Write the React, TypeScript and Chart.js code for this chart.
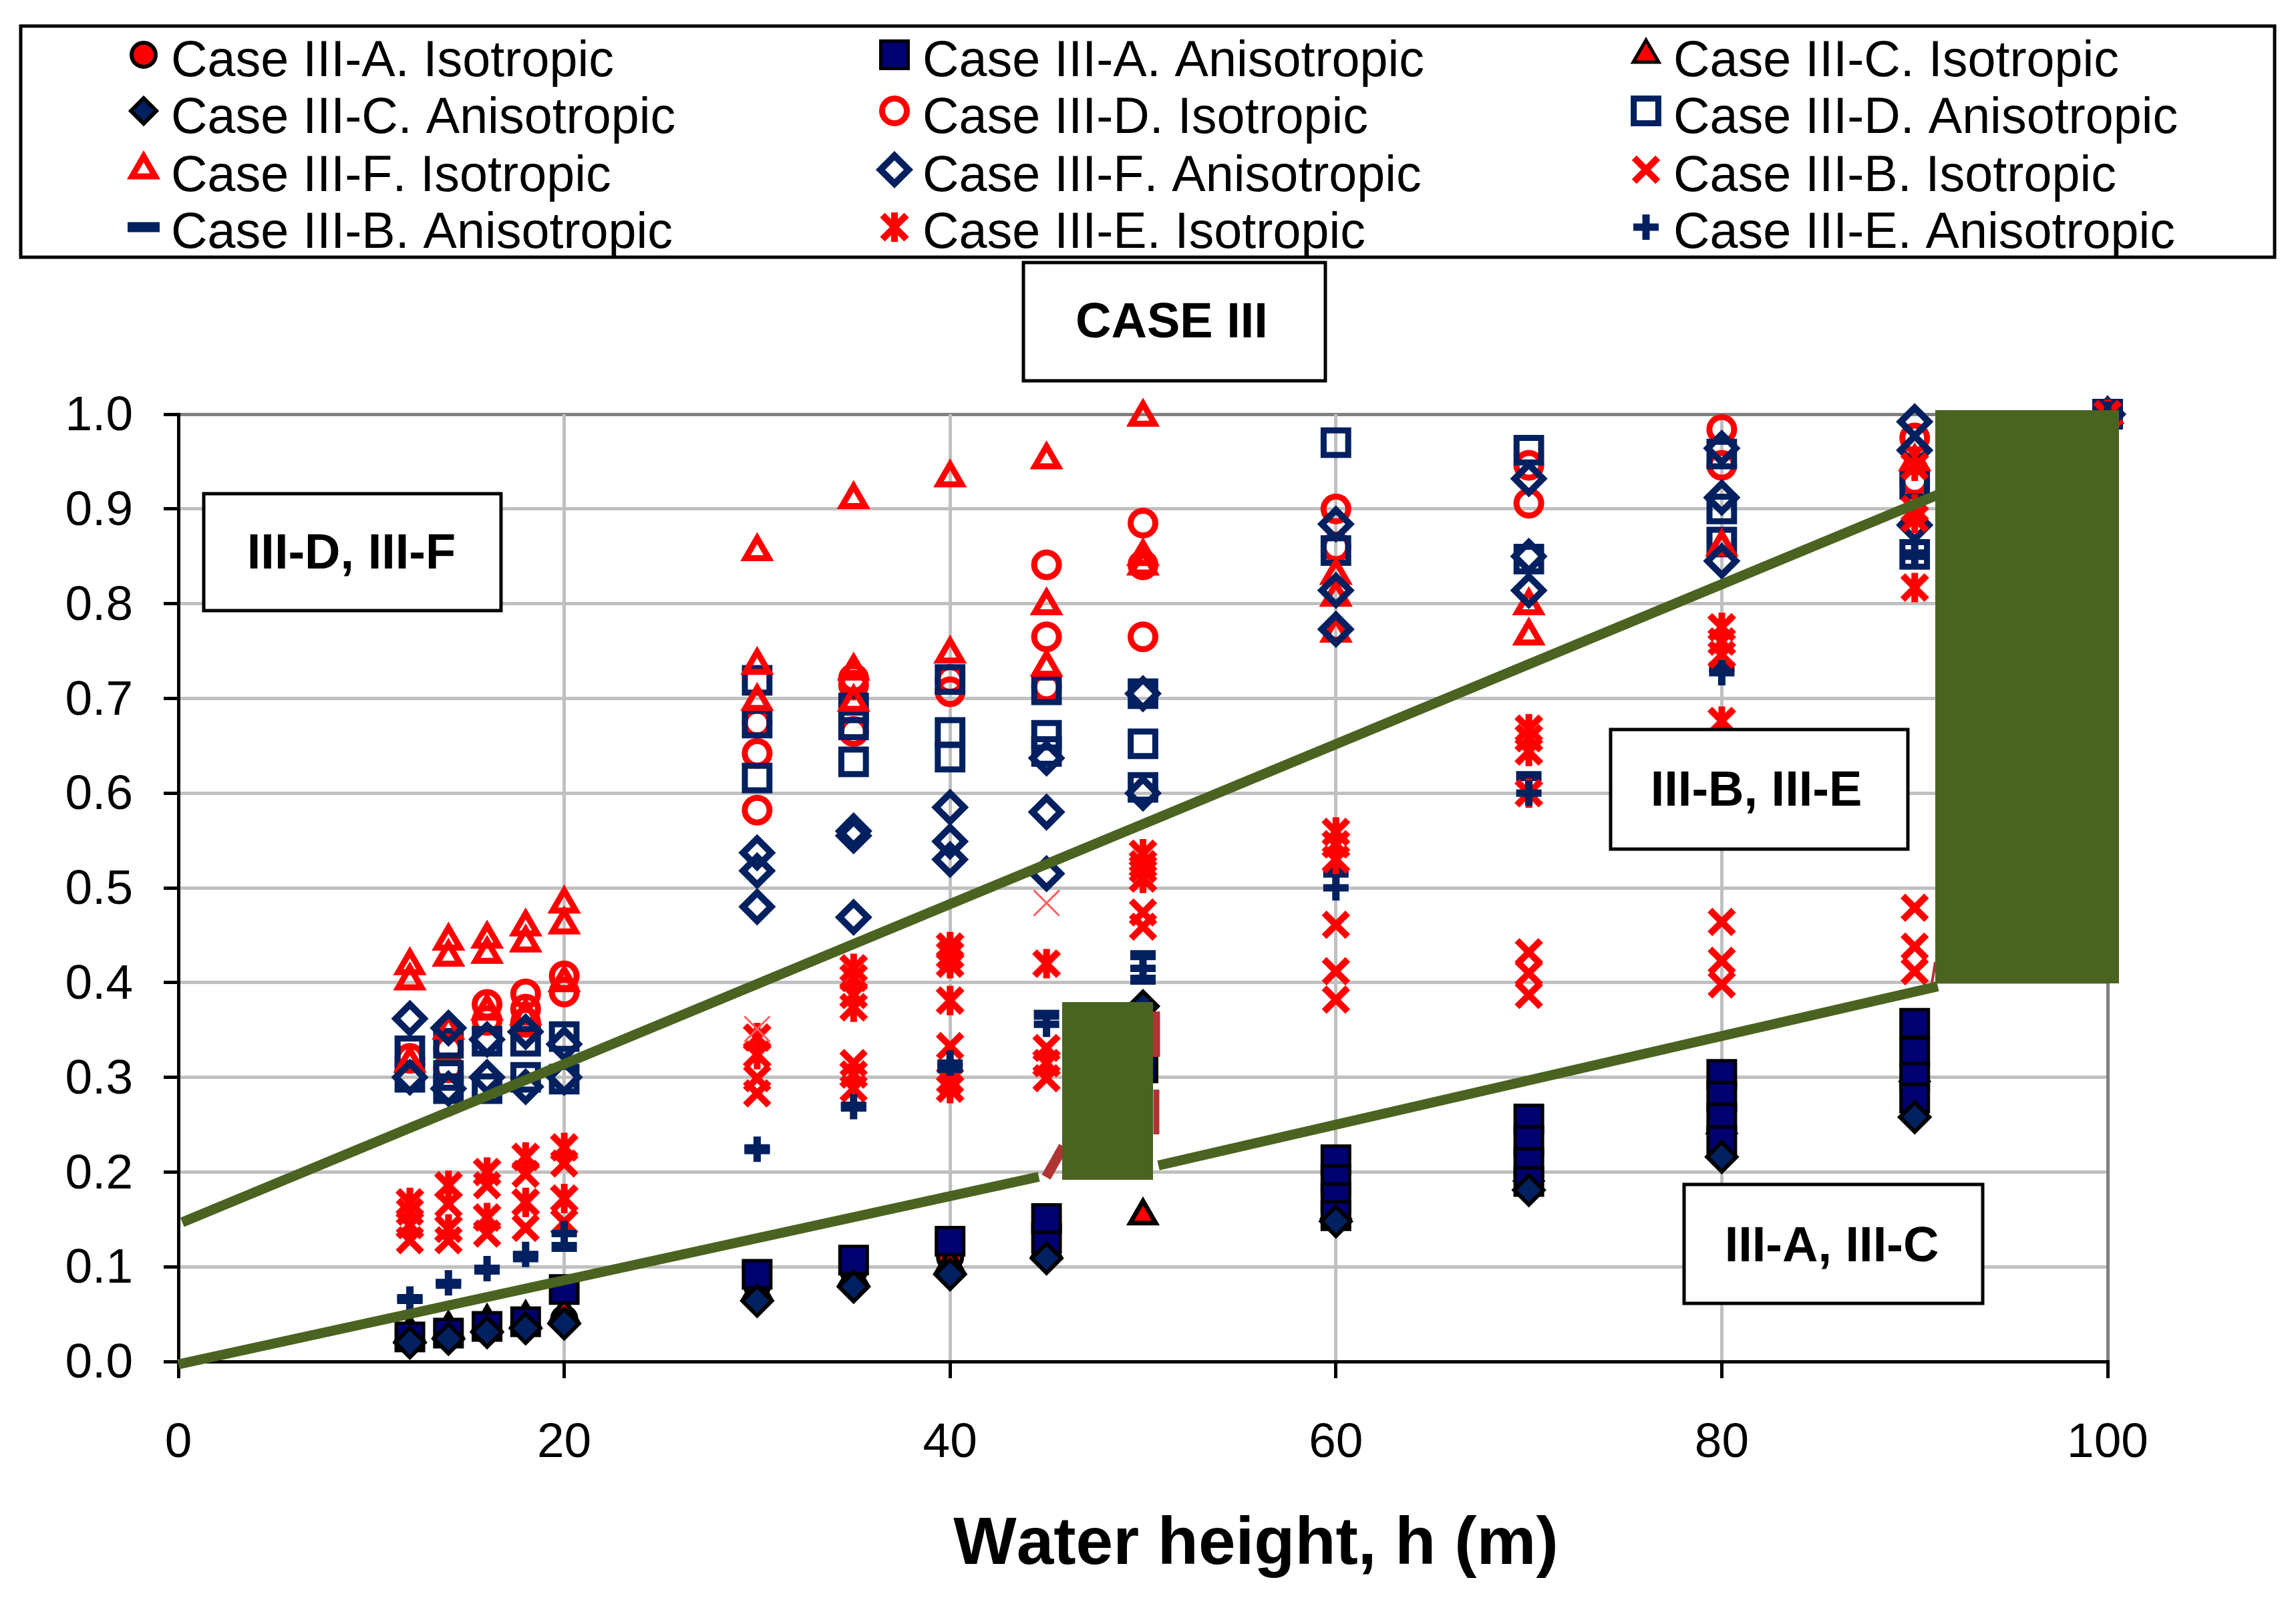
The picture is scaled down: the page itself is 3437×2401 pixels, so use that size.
import React, { useEffect, useRef } from "react";
import { Chart, registerables } from "chart.js";
import { drawPoint } from "chart.js/helpers";

Chart.register(...registerables);

type Pt = [number, number];

// values: [water height, ratio]
const caseAIso: Pt[] = [[12, .025], [14, .028], [16, .034], [18, .04], [20, .045], [30, .08], [35, .095], [40, .11], [45, .13], [50, .31], [60, .19], [70, .22], [80, .27], [90, .302], [100, 1]];
const caseAAniso: Pt[] = [[12, .026], [14, .03], [16, .037], [18, .042], [20, .076], [30, .092], [35, .107], [40, .127], [45, .13], [45, .151], [50, .31], [60, .213], [60, .192], [60, .173], [60, .154], [70, .256], [70, .233], [70, .21], [70, .19], [80, .303], [80, .28], [80, .257], [80, .233], [90, .357], [90, .327], [90, .3], [90, .278], [100, 1]];
const caseCIso: Pt[] = [[12, .031], [14, .035], [16, .042], [18, .046], [20, .051], [30, .075], [35, .09], [40, .103], [45, .12], [50, .154], [60, .16], [70, .2], [80, .25], [90, .305], [100, 1]];
const caseCAniso: Pt[] = [[12, .02], [14, .024], [16, .031], [18, .035], [20, .04], [30, .064], [35, .079], [40, .092], [45, .109], [50, .375], [60, .148], [70, .181], [80, .216], [90, .258], [100, 1]];
const caseDIso: Pt[] = [[12, .32], [12, .3], [14, .33], [14, .31], [16, .377], [16, .36], [18, .388], [18, .372], [18, .358], [20, .407], [20, .39], [30, .674], [30, .642], [30, .582], [35, .721], [35, .714], [35, .665], [40, .72], [40, .707], [45, .841], [45, .765], [45, .712], [50, .885], [50, .841], [50, .765], [60, .9], [60, .86], [70, .946], [70, .906], [80, .984], [80, .946], [90, .975], [90, .93], [100, 1]];
const caseDAniso: Pt[] = [[12, .328], [12, .3], [14, .336], [14, .302], [14, .288], [16, .338], [16, .288], [18, .338], [18, .3], [20, .343], [20, .298], [30, .719], [30, .674], [30, .616], [35, .69], [35, .672], [35, .633], [40, .72], [40, .664], [40, .638], [45, .709], [45, .661], [45, .644], [50, .705], [50, .652], [50, .606], [60, .97], [60, .856], [70, .962], [70, .847], [80, .958], [80, .9], [80, .865], [90, .926], [90, .852], [100, 1]];
const caseFIso: Pt[] = [[12, .418], [12, .402], [12, .315], [14, .444], [14, .427], [14, .35], [16, .446], [16, .43], [16, .37], [18, .459], [18, .442], [18, .365], [20, .483], [20, .461], [20, .4], [30, .855], [30, .735], [30, .697], [35, .91], [35, .729], [35, .696], [40, .933], [40, .747], [45, .952], [45, .798], [45, .733], [50, .997], [50, .85], [50, .84], [60, .83], [60, .807], [60, .769], [70, .798], [70, .766], [80, .86], [90, .95], [100, 1]];
const caseFAniso: Pt[] = [[12, .362], [12, .3], [14, .352], [14, .288], [16, .34], [16, .3], [18, .348], [18, .29], [20, .335], [20, .3], [30, .537], [30, .518], [30, .48], [35, .56], [35, .555], [35, .469], [40, .585], [40, .549], [40, .53], [45, .637], [45, .58], [45, .515], [50, .705], [50, .6], [60, .884], [60, .814], [60, .773], [70, .932], [70, .85], [70, .814], [80, .964], [80, .912], [80, .845], [90, .992], [90, .962], [90, .883], [100, 1]];
const caseBIso: Pt[] = [[12, .128], [12, .158], [14, .128], [14, .166], [16, .135], [16, .186], [18, .141], [18, .198], [20, .147], [20, .209], [30, .299], [30, .283], [35, .315], [35, .288], [40, .333], [40, .297], [45, .331], [45, .299], [50, .474], [50, .459], [60, .461], [60, .412], [60, .382], [70, .432], [70, .41], [70, .387], [80, .464], [80, .423], [80, .398], [90, .479], [90, .438], [90, .412], [100, 1]];
const caseBAniso: Pt[] = [[12, .066], [14, .082], [16, .097], [18, .11], [20, .121], [30, .224], [35, .269], [40, .31], [45, .366], [50, .429], [50, .403], [60, .516], [70, .618], [80, .733], [90, .852], [100, 1]];
const caseEIso: Pt[] = [[12, .144], [12, .168], [14, .14], [14, .186], [16, .152], [16, .2], [18, .168], [18, .216], [20, .172], [20, .226], [30, .342], [30, .324], [35, .415], [35, .405], [35, .387], [35, .374], [35, .303], [40, .438], [40, .429], [40, .42], [40, .381], [40, .288], [45, .42], [45, .315], [50, .536], [50, .525], [50, .52], [50, .51], [60, .559], [60, .546], [60, .53], [70, .668], [70, .658], [70, .644], [70, .6], [80, .775], [80, .76], [80, .746], [80, .676], [90, .945], [90, .9], [90, .89], [90, .817], [100, 1]];
const caseEAniso: Pt[] = [[12, .066], [14, .083], [16, .098], [18, .113], [20, .135], [30, .224], [35, .269], [40, .315], [45, .356], [50, .415], [60, .5], [70, .6], [80, .727], [90, .85], [100, 1]];
const caseEIsoFaint: Pt[] = [[30, .351], [45, .484]];
const upperTrend: Pt[] = [[0.2, .147], [91.2, .915]];
const lowerTrendLeft: Pt[] = [[0, -.003], [44.6, .195]];
const lowerTrendRight: Pt[] = [[50.8, .207], [91.2, .396]];

const seriesNames = [
  "Case III-A. Isotropic", "Case III-A. Anisotropic", "Case III-C. Isotropic",
  "Case III-C. Anisotropic", "Case III-D. Isotropic", "Case III-D. Anisotropic",
  "Case III-F. Isotropic", "Case III-F. Anisotropic", "Case III-B. Isotropic",
  "Case III-B. Anisotropic", "Case III-E. Isotropic", "Case III-E. Anisotropic",
];
const seriesData = [caseAIso, caseAAniso, caseCIso, caseCAniso, caseDIso, caseDAniso, caseFIso, caseFAniso, caseBIso, caseBAniso, caseEIso, caseEAniso];
// lower number is painted later; the filled A/C markers stack with the squares over the red shapes
const drawOrders = [22, 20, 21, 19, 18, 17, 16, 15, 14, 13, 12, 11];
const xTicks = [0, 20, 40, 60, 80, 100];

const RED = "#ff0000";
const NAVY = "#002060";
const BLACK = "#000000";
const GREEN = "#4a6320";
const BROWN = "#b03434";
const FONT = '"Liberation Sans", Arial, sans-serif';
const WIDTH = 3437;
const HEIGHT = 2401;

function makeStarGlyph(): HTMLCanvasElement {
  const c = document.createElement("canvas");
  c.width = 60;
  c.height = 60;
  const g = c.getContext("2d") as CanvasRenderingContext2D;
  g.strokeStyle = RED;
  g.lineWidth = 10;
  g.beginPath();
  g.moveTo(12, 12); g.lineTo(48, 48);
  g.moveTo(48, 12); g.lineTo(12, 48);
  g.moveTo(30, 8); g.lineTo(30, 52);
  g.stroke();
  return c;
}
const starGlyph = makeStarGlyph();

type Sty = { pointStyle: any; radius: number; fill: string; stroke: string; lw: number; legendRadius?: number; legendLw?: number };
const styles: Sty[] = [
  { pointStyle: "circle", radius: 18, fill: RED, stroke: BLACK, lw: 6 },
  { pointStyle: "rect", radius: 29, fill: "#000070", stroke: BLACK, lw: 5 },
  { pointStyle: "triangle", radius: 22, fill: RED, stroke: BLACK, lw: 7, legendRadius: 22, legendLw: 5 },
  { pointStyle: "rectRot", radius: 22, fill: NAVY, stroke: BLACK, lw: 6, legendRadius: 19 },
  { pointStyle: "circle", radius: 18.5, fill: "transparent", stroke: RED, lw: 9 },
  { pointStyle: "rect", radius: 26, fill: "transparent", stroke: NAVY, lw: 9 },
  { pointStyle: "triangle", radius: 20, fill: "transparent", stroke: RED, lw: 9 },
  { pointStyle: "rectRot", radius: 21, fill: "transparent", stroke: NAVY, lw: 10 },
  { pointStyle: "crossRot", radius: 25, fill: "transparent", stroke: RED, lw: 10 },
  { pointStyle: "line", radius: 19, fill: NAVY, stroke: NAVY, lw: 15, legendRadius: 24 },
  { pointStyle: starGlyph, radius: 30, fill: "transparent", stroke: RED, lw: 1 },
  { pointStyle: "cross", radius: 19, fill: NAVY, stroke: NAVY, lw: 11 },
];

const legendColumns = [{ mark: 215, text: 256 }, { mark: 1339, text: 1381 }, { mark: 2464, text: 2505 }];
const legendRows = [{ mark: 82, text: 114 }, { mark: 166, text: 199 }, { mark: 254, text: 286 }, { mark: 340, text: 371 }];

const textBoxes = [
  { label: "CASE III", l: 1532, t: 393, r: 1984, b: 570, cx: 1754, cy: 485 },
  { label: "III-D, III-F", l: 305, t: 739, r: 750, b: 914, cx: 526, cy: 831 },
  { label: "III-B, III-E", l: 2411, t: 1092, r: 2856, b: 1271, cx: 2629, cy: 1186 },
  { label: "III-A, III-C", l: 2521, t: 1773, r: 2968, b: 1951, cx: 2742, cy: 1868 },
];
const coverRects = [
  { l: 1590, t: 1500, r: 1726, b: 1766 },
  { l: 2897, t: 614, r: 3172, b: 1472 },
];
const brownPieces = [
  { x1: 1566, y1: 1762, x2: 1592, y2: 1716, w: 15 },
  { x1: 1731, y1: 1514, x2: 1731, y2: 1582, w: 11 },
  { x1: 1731, y1: 1631, x2: 1731, y2: 1698, w: 9 },
  { x1: 2892, y1: 1472, x2: 2897, y2: 1440, w: 4 },
];

const overlayPlugin = {
  id: "overlay",
  afterDatasetsDraw(chart: any) {
    const ctx: CanvasRenderingContext2D = chart.ctx;
    ctx.save();
    (ctx as any).fontKerning = "none";
    for (const p of brownPieces) {
      ctx.strokeStyle = BROWN;
      ctx.lineWidth = p.w;
      ctx.beginPath();
      ctx.moveTo(p.x1, p.y1);
      ctx.lineTo(p.x2, p.y2);
      ctx.stroke();
    }
    ctx.fillStyle = GREEN;
    for (const r of coverRects) ctx.fillRect(r.l, r.t, r.r - r.l, r.b - r.t);

    ctx.textAlign = "center";
    ctx.textBaseline = "middle";
    ctx.font = `bold 74px ${FONT}`;
    for (const b of textBoxes) {
      ctx.fillStyle = "#ffffff";
      ctx.strokeStyle = BLACK;
      ctx.lineWidth = 5;
      ctx.fillRect(b.l, b.t, b.r - b.l, b.b - b.t);
      ctx.strokeRect(b.l, b.t, b.r - b.l, b.b - b.t);
      ctx.fillStyle = BLACK;
      ctx.fillText(b.label, b.cx, b.cy);
    }

    // legend
    ctx.fillStyle = "#ffffff";
    ctx.strokeStyle = BLACK;
    ctx.lineWidth = 5;
    ctx.fillRect(31, 39, 3374, 346);
    ctx.strokeRect(31, 39, 3374, 346);
    ctx.textAlign = "left";
    ctx.textBaseline = "alphabetic";
    ctx.font = `75.5px ${FONT}`;
    seriesNames.forEach((name, i) => {
      const col = legendColumns[i % 3];
      const row = legendRows[Math.floor(i / 3)];
      const s = styles[i];
      const lw = s.legendLw ?? s.lw;
      ctx.save();
      ctx.fillStyle = s.fill;
      ctx.strokeStyle = s.stroke;
      ctx.lineWidth = lw;
      drawPoint(ctx, { pointStyle: s.pointStyle, rotation: 0, radius: s.legendRadius ?? s.radius, borderWidth: lw }, col.mark, row.mark);
      ctx.restore();
      ctx.fillStyle = BLACK;
      ctx.fillText(name, col.text, row.text);
    });

    // axis title
    ctx.textAlign = "center";
    ctx.textBaseline = "middle";
    ctx.font = `bold 100px ${FONT}`;
    ctx.fillText("Water height, h (m)", 1880, 2313);
    ctx.restore();
  },
};

const toXY = (pts: Pt[]) => pts.map(([x, y]) => ({ x, y }));

export default function App() {
  const ref = useRef<HTMLCanvasElement | null>(null);
  useEffect(() => {
    document.body.style.margin = "0";
    const trend = (label: string, pts: Pt[]) => ({
      label,
      data: toXY(pts),
      showLine: true,
      borderColor: GREEN,
      borderWidth: 15,
      pointRadius: 0,
      order: 0,
      clip: false as const,
    });
    const datasets: any[] = seriesNames.map((label, i) => ({
      label,
      data: toXY(seriesData[i]),
      pointStyle: styles[i].pointStyle,
      pointRadius: styles[i].radius,
      pointBackgroundColor: styles[i].fill,
      pointBorderColor: styles[i].stroke,
      pointBorderWidth: styles[i].lw,
      order: drawOrders[i],
      clip: false,
    }));
    datasets.push({
      label: "Case III-E. Isotropic (thin)",
      data: toXY(caseEIsoFaint),
      pointStyle: "crossRot",
      pointRadius: 27,
      pointBackgroundColor: "transparent",
      pointBorderColor: "#ff6060",
      pointBorderWidth: 3,
      order: 1,
      clip: false,
    });
    datasets.push(trend("Upper limit", upperTrend), trend("Lower limit", lowerTrendLeft), trend("Lower limit (right)", lowerTrendRight));

    const chart = new Chart(ref.current as HTMLCanvasElement, {
      type: "scatter",
      data: { datasets },
      plugins: [overlayPlugin],
      options: {
        animation: false,
        responsive: false,
        devicePixelRatio: 1,
        layout: { padding: { top: 620, left: 0, right: 282, bottom: 0 } },
        plugins: { legend: { display: false }, tooltip: { enabled: false }, title: { display: false } },
        scales: {
          x: {
            type: "linear",
            min: 0,
            max: 100,
            afterFit: (s: any) => { s.height = 363; },
            afterBuildTicks: (s: any) => { s.ticks = xTicks.map((value) => ({ value })); },
            border: { color: BLACK, width: 5 },
            grid: {
              color: (c: any) => (c.tick && c.tick.value === 100 ? "#808080" : "#c0c0c0"),
              lineWidth: 5,
              tickColor: BLACK,
              tickWidth: 5,
              tickLength: 25,
              z: 0,
            },
            ticks: {
              maxRotation: 0,
              autoSkip: false,
              padding: 54,
              color: BLACK,
              font: { family: FONT, size: 73 },
              callback: (v: any) => String(v),
            },
          },
          y: {
            type: "linear",
            min: 0,
            max: 1,
            afterFit: (s: any) => { s.width = 267; },
            border: { color: BLACK, width: 5 },
            grid: {
              color: (c: any) => (c.tick && c.tick.value === 1 ? "#808080" : "#c0c0c0"),
              lineWidth: 5,
              tickColor: BLACK,
              tickWidth: 5,
              tickLength: 22,
            },
            ticks: {
              stepSize: 0.1,
              padding: 46,
              color: BLACK,
              font: { family: FONT, size: 73, lineHeight: 0.11 },
              // the empty first line nudges the label to the reference's baseline
              callback: (v: any) => ["", Number(v).toFixed(1)],
            },
          },
        },
      } as any,
    });
    return () => chart.destroy();
  }, []);
  return (
    <div style={{ position: "absolute", left: 0, top: 0, width: WIDTH, height: HEIGHT, overflow: "hidden", background: "#fff" }}>
      <canvas ref={ref} width={WIDTH} height={HEIGHT} style={{ display: "block", width: WIDTH, height: HEIGHT }} />
    </div>
  );
}
